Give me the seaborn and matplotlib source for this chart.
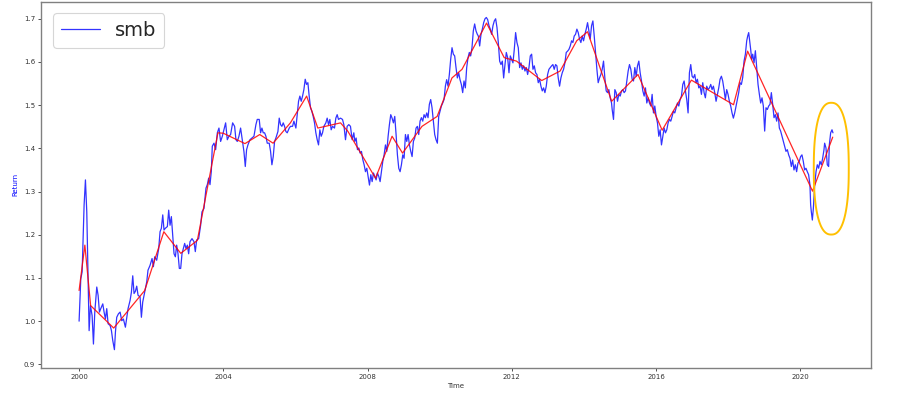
import numpy as np
import pandas as pd
import matplotlib
matplotlib.use("Agg")
import matplotlib.pyplot as plt
import matplotlib.dates as mdates
from matplotlib.patches import Polygon
import seaborn as sns

# ---------------- data (years since 2000-01-01, smb cumulative return) ----------------
smb_t_2000 = [0.0,0.047,0.084,0.139,0.176,0.213,0.25,0.278,0.315,0.361,0.398,0.435,0.49,0.527,0.564,0.601,0.657,0.693,0.73,0.767,
              0.804,0.86,0.897,0.934,0.98,1.008,1.044,1.091,1.137,1.183,1.229,1.284,1.322,1.358,1.414,1.451,1.488,1.524,1.561,1.598,
              1.635,1.691,1.728,1.764,1.82,1.876,1.911,1.967,2.023,2.06,2.097,2.152,2.208,2.245,2.282,2.32,2.355,2.392,2.448,2.485,
              2.522,2.559,2.596,2.633,2.67,2.706,2.743,2.78,2.817,2.854,2.891,2.928,2.964,3.002,3.038,3.076,3.131,3.186,3.223,3.26,
              3.316,3.371,3.408,3.464,3.519,3.556,3.593,3.63,3.667]
smb_v_2000 = [1.000,1.098,1.114,1.269,1.327,1.253,1.098,0.978,1.036,1.013,0.947,1.021,1.079,1.060,1.021,1.029,1.040,1.021,1.005,1.029,
              0.994,0.990,0.978,0.955,0.934,0.975,1.009,1.017,1.021,1.001,1.005,0.986,1.009,1.029,1.048,1.067,1.105,1.064,1.069,1.081,
              1.060,1.056,1.009,1.044,1.067,1.091,1.118,1.129,1.145,1.126,1.149,1.141,1.168,1.207,1.215,1.246,1.211,1.215,1.219,1.257,
              1.222,1.242,1.199,1.156,1.149,1.176,1.156,1.122,1.122,1.156,1.168,1.180,1.168,1.176,1.156,1.184,1.191,1.184,1.161,1.188,
              1.191,1.222,1.253,1.261,1.308,1.316,1.331,1.316,1.347]

smb_t_2004 = [3.694,3.741,3.787,3.834,3.879,3.925,3.972,4.018,4.064,4.11,4.156,4.202,4.258,4.313,4.35,4.387,4.433,4.479,4.525,4.571,
              4.609,4.645,4.682,4.738,4.793,4.849,4.904,4.941,4.996,5.033,5.07,5.107,5.144,5.181,5.218,5.273,5.31,5.347,5.384,5.421,
              5.458,5.514,5.55,5.587,5.624,5.661,5.698,5.735,5.772,5.828,5.864,5.92,5.957,6.012,6.049,6.086,6.123,6.16,6.197,6.234,
              6.271,6.308,6.345,6.381,6.418,6.455,6.492,6.529,6.566,6.603,6.64,6.677,6.714,6.751,6.788,6.843,6.88,6.917,6.954,6.991,
              7.028,7.083,7.12,7.157,7.194,7.25,7.305,7.342]
smb_v_2004 = [1.405,1.412,1.397,1.436,1.447,1.416,1.428,1.443,1.459,1.420,1.428,1.432,1.459,1.451,1.420,1.416,1.428,1.447,1.420,1.393,
              1.358,1.397,1.408,1.420,1.424,1.428,1.455,1.467,1.467,1.436,1.447,1.436,1.436,1.428,1.412,1.412,1.393,1.362,1.381,1.416,
              1.424,1.439,1.470,1.455,1.451,1.459,1.451,1.439,1.436,1.447,1.451,1.451,1.463,1.447,1.478,1.509,1.521,1.509,1.521,1.536,
              1.560,1.548,1.552,1.521,1.494,1.486,1.474,1.459,1.436,1.420,1.408,1.443,1.428,1.436,1.451,1.459,1.470,1.455,1.467,1.443,
              1.451,1.447,1.470,1.478,1.467,1.470,1.467,1.455]

smb_t_2007 = [7.388,7.434,7.48,7.526,7.573,7.619,7.646,7.683,7.72,7.757,7.794,7.831,7.868,7.905,7.942,7.979,8.016,8.053,8.09,8.127,
              8.164,8.2,8.237,8.274,8.311,8.348,8.385,8.422,8.459,8.496,8.533,8.57,8.606,8.643,8.68,8.717,8.754,8.791,8.828,8.865,
              8.902,8.939,8.976,9.013,9.05,9.087,9.124,9.161,9.198,9.235,9.271,9.308,9.345,9.382,9.419,9.456,9.493,9.53,9.567,9.604,
              9.641,9.677,9.714,9.751,9.788,9.825,9.862,9.899,9.936,9.973,10.01,10.047,10.084,10.121,10.158,10.194,10.231,10.268,10.305,10.342,
              10.379,10.416,10.453,10.49,10.527,10.564,10.601,10.638,10.675,10.712,10.749,10.786,10.822,10.859,10.896,10.933,10.97,11.007,11.044]
smb_v_2007 = [1.420,1.451,1.455,1.451,1.420,1.436,1.416,1.424,1.397,1.401,1.389,1.393,1.374,1.362,1.346,1.354,1.335,1.315,1.339,1.323,
              1.343,1.335,1.327,1.343,1.335,1.323,1.346,1.370,1.385,1.408,1.393,1.428,1.455,1.478,1.470,1.459,1.474,1.432,1.385,1.354,
              1.346,1.362,1.385,1.377,1.432,1.416,1.432,1.408,1.393,1.381,1.416,1.424,1.447,1.451,1.432,1.463,1.471,1.463,1.478,1.471,
              1.482,1.471,1.502,1.513,1.494,1.463,1.432,1.420,1.412,1.474,1.486,1.498,1.505,1.513,1.544,1.559,1.544,1.571,1.606,1.633,
              1.618,1.614,1.587,1.563,1.575,1.559,1.548,1.529,1.556,1.540,1.587,1.610,1.622,1.614,1.633,1.672,1.688,1.672,1.664]

smb_t_2011 = [11.072,11.109,11.146,11.183,11.22,11.257,11.294,11.331,11.368,11.404,11.441,11.478,11.515,11.552,11.589,11.626,11.663,11.7,11.737,11.774,
              11.811,11.848,11.885,11.922,11.959,11.996,12.032,12.069,12.106,12.143,12.18,12.217,12.254,12.291,12.328,12.365,12.402,12.439,12.476,12.513,
              12.55,12.587,12.624,12.66,12.697,12.734,12.771,12.808,12.845,12.882,12.919,12.956,12.993,13.03,13.067,13.104,13.14,13.177,13.214,13.251,
              13.288,13.325,13.362,13.399,13.436,13.473,13.51,13.547,13.584,13.621,13.658,13.694,13.731,13.768,13.805,13.842,13.879,13.916,13.953,13.99,
              14.027,14.064,14.101,14.138,14.175,14.212,14.249,14.286,14.323,14.36,14.396,14.433,14.47,14.507,14.544,14.581,14.618,14.655,14.692,14.729,
              14.766]
smb_v_2011 = [1.660,1.637,1.664,1.676,1.691,1.700,1.703,1.698,1.684,1.676,1.664,1.684,1.695,1.700,1.680,1.645,1.602,1.594,1.602,1.563,
              1.594,1.622,1.610,1.575,1.614,1.606,1.598,1.629,1.668,1.645,1.633,1.587,1.598,1.583,1.591,1.579,1.587,1.571,1.587,1.614,
              1.618,1.583,1.591,1.575,1.571,1.552,1.560,1.544,1.533,1.540,1.529,1.544,1.571,1.583,1.587,1.591,1.594,1.583,1.594,1.591,
              1.563,1.544,1.563,1.575,1.583,1.598,1.622,1.625,1.629,1.637,1.649,1.645,1.660,1.664,1.676,1.668,1.653,1.645,1.660,1.649,
              1.664,1.676,1.691,1.672,1.653,1.684,1.695,1.660,1.622,1.583,1.552,1.563,1.571,1.583,1.602,1.563,1.533,1.529,1.536,1.517,
              1.505]

smb_t_2015 = [14.784,14.821,14.858,14.895,14.932,14.969,15.006,15.043,15.08,15.116,15.153,15.19,15.227,15.264,15.301,15.338,15.375,15.412,15.449,15.486,
              15.523,15.56,15.597,15.634,15.671,15.707,15.744,15.781,15.818,15.855,15.892,15.929,15.966,16.003,16.04,16.077,16.114,16.151,16.188,16.225,
              16.262,16.298,16.335,16.372,16.409,16.446,16.483,16.52,16.557,16.594,16.631,16.668,16.705,16.742,16.779,16.815,16.852,16.889,16.926,16.963,
              17.0,17.037,17.074,17.111,17.148,17.185,17.222,17.259,17.296,17.333,17.369,17.406,17.443,17.48,17.517,17.554,17.591,17.628,17.665,17.702,
              17.739,17.776,17.813,17.849,17.886,17.923,17.96,17.997,18.034,18.071,18.108,18.145,18.182,18.219,18.256,18.293]
smb_v_2015 = [1.490,1.467,1.536,1.529,1.509,1.525,1.521,1.533,1.536,1.529,1.533,1.556,1.579,1.594,1.583,1.560,1.556,1.587,1.567,1.591,
              1.602,1.575,1.556,1.533,1.521,1.540,1.505,1.517,1.505,1.498,1.525,1.482,1.498,1.474,1.459,1.428,1.443,1.408,1.428,1.447,
              1.436,1.443,1.459,1.467,1.463,1.474,1.486,1.482,1.494,1.505,1.498,1.513,1.521,1.548,1.556,1.533,1.513,1.482,1.575,1.594,
              1.567,1.563,1.571,1.552,1.560,1.540,1.544,1.525,1.552,1.529,1.517,1.544,1.536,1.540,1.548,1.536,1.544,1.529,1.509,1.525,
              1.540,1.560,1.567,1.556,1.536,1.513,1.536,1.525,1.509,1.498,1.482,1.470,1.482,1.498,1.513,1.529]

smb_t_2018 = [18.33,18.367,18.404,18.441,18.478,18.515,18.542,18.57,18.598,18.625,18.653,18.681,18.718,18.755,18.792,18.829,18.866,18.902,18.939,18.976,
              19.013,19.05,19.087,19.124,19.161,19.198,19.235,19.272,19.309,19.346,19.383,19.42,19.456,19.493,19.53,19.567,19.604,19.641,19.678,19.715,
              19.752,19.789,19.826,19.863,19.899,19.936,19.973,20.01,20.047,20.084,20.121,20.158,20.195,20.232,20.269,20.288,20.307,20.335,20.363,20.4,
              20.437,20.473,20.51,20.547,20.584,20.621,20.658,20.676,20.713,20.75,20.787,20.806,20.843,20.88,20.907]
smb_v_2018 = [1.552,1.548,1.564,1.602,1.618,1.649,1.660,1.668,1.649,1.629,1.606,1.618,1.598,1.626,1.587,1.548,1.525,1.505,1.517,1.498,
              1.440,1.494,1.490,1.498,1.502,1.529,1.502,1.471,1.478,1.463,1.482,1.447,1.440,1.428,1.416,1.405,1.393,1.397,1.385,1.377,
              1.358,1.373,1.350,1.362,1.346,1.366,1.370,1.381,1.385,1.370,1.350,1.354,1.346,1.339,1.315,1.269,1.253,1.234,1.261,1.315,
              1.346,1.362,1.354,1.370,1.362,1.377,1.397,1.412,1.401,1.362,1.358,1.408,1.436,1.443,1.436]

# smoothed trend (red)
trend_t = [0.0,0.16,0.32,0.96,1.82,2.35,2.82,3.28,3.85,4.0,4.6,5.01,5.38,5.86,6.31,6.62,7.25,7.45,8.22,8.68,
           8.97,9.51,9.93,10.34,10.62,11.3,11.79,12.13,12.83,13.34,13.8,14.1,14.77,15.5,16.17,16.98,18.15,18.54,20.34,20.9]
trend_v = [1.071,1.176,1.036,0.984,1.071,1.207,1.157,1.187,1.436,1.435,1.411,1.432,1.412,1.459,1.521,1.447,1.459,1.44,1.331,1.428,
           1.389,1.451,1.474,1.563,1.583,1.690,1.61,1.602,1.557,1.579,1.649,1.670,1.509,1.571,1.442,1.558,1.501,1.625,1.301,1.426]

# highlighted region (rounded outline annotation), in years since 2000 / return units
highlight_center = (20.86, 1.353)
highlight_size = (0.97, 0.305)

# ---------------- build frames ----------------
base = pd.Timestamp("2000-01-01")
def to_dates(years):
    return base + pd.to_timedelta(np.asarray(years) * 365.25, unit="D")

smb_t = smb_t_2000 + smb_t_2004 + smb_t_2007 + smb_t_2011 + smb_t_2015 + smb_t_2018
smb_v = smb_v_2000 + smb_v_2004 + smb_v_2007 + smb_v_2011 + smb_v_2015 + smb_v_2018
n = min(len(smb_t), len(smb_v))
df = pd.DataFrame({"Time": to_dates(smb_t[:n]), "smb": smb_v[:n]})
trend = pd.DataFrame({"Time": to_dates(trend_t), "trend": trend_v})

# ---------------- plot ----------------
sns.set_style("white")
plt.rcParams["font.family"] = ["DejaVu Sans"]

fig, ax = plt.subplots(figsize=(9, 3.97), dpi=100)
fig.subplots_adjust(left=0.046, right=0.9674, top=0.9957, bottom=0.073)

sns.lineplot(data=df, x="Time", y="smb", ax=ax, color="blue", lw=0.9, alpha=0.8, label="smb")
sns.lineplot(data=trend, x="Time", y="trend", ax=ax, color="red", lw=0.9, alpha=0.85, legend=False)

# x limits: data range with 5% margins (keep the annotation from changing them)
t0, t1 = min(smb_t), max(smb_t)
span = t1 - t0
xlo = mdates.date2num(to_dates([t0 - 0.05 * span])[0])
xhi = mdates.date2num(to_dates([t1 + 0.05 * span])[0])

# rounded (superellipse) outline around the latest rebound
cx = mdates.date2num(to_dates([highlight_center[0]])[0])
a = highlight_size[0] * 365.25 / 2
b = highlight_size[1] / 2
th = np.linspace(0, 2 * np.pi, 400)
p = 2.0 / 2.4
xs = cx + a * np.sign(np.cos(th)) * np.abs(np.cos(th)) ** p
ys = highlight_center[1] + b * np.sign(np.sin(th)) * np.abs(np.sin(th)) ** p
outline = Polygon(np.column_stack([xs, ys]), closed=True, fill=False, edgecolor="#FFC000", lw=1.4, zorder=5)
ax.add_patch(outline)

ax.set_xlim(xlo, xhi)
ax.xaxis.set_major_locator(mdates.YearLocator(4))
ax.xaxis.set_major_formatter(mdates.DateFormatter("%Y"))
ax.set_yticks([0.9, 1.0, 1.1, 1.2, 1.3, 1.4, 1.5, 1.6, 1.7])
ax.set_ylim(0.8915, 1.7395)

ax.set_xlabel("Time", fontsize=5, color="#333333", labelpad=2)
ax.set_ylabel("Return", fontsize=5, color="blue", labelpad=4)
ax.tick_params(axis="both", labelsize=5, colors="#333333", length=2.5, width=0.6, pad=2, left=True, bottom=True)
for s in ax.spines.values():
    s.set_color("#808080")
    s.set_linewidth(1.0)

leg = ax.legend(loc="upper left", fontsize=14, frameon=True, borderaxespad=0.6)
leg.get_frame().set_edgecolor("#cccccc")
leg.get_frame().set_linewidth(0.8)

fig.savefig("out.png", dpi=100)
